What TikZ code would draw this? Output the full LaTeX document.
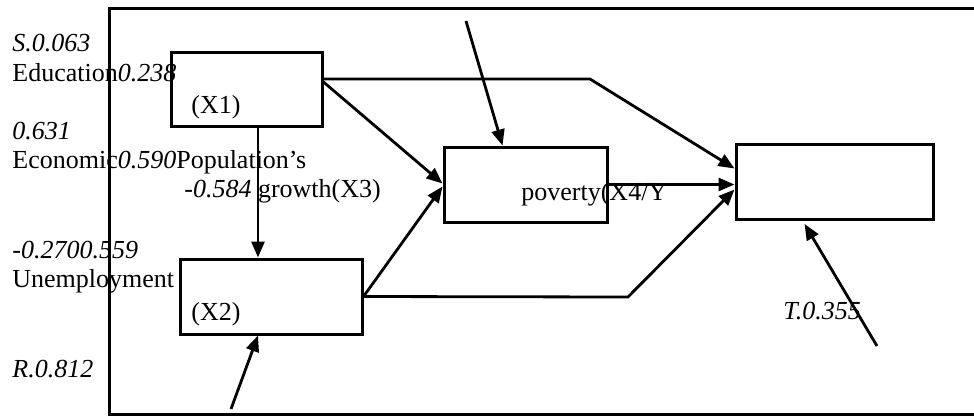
\documentclass[tikz,border=0pt]{standalone}
\usepackage{fontspec}
\setmainfont{Liberation Serif}
\usetikzlibrary{arrows.meta,calc}

\tikzset{
    varbox/.style={draw, line width=1.5pt, inner sep=0pt},
    path/.style={line width=1.4pt, -{Triangle[length=8pt,width=6.5pt]}},
    lbl/.style={anchor=base west, inner sep=0pt, font=\fontsize{13}{15}\selectfont}
}

\begin{document}
\begin{tikzpicture}[x=0.5pt,y=-0.5pt]

\useasboundingbox (0,0) rectangle (974,419);

% Cornice esterna
\draw[line width=1.5pt] (980,8) -- (109,8) -- (109,414) -- (980,414);

% Variabili
\node[varbox, minimum width=75.5pt, minimum height=37pt] (X1) at (246.5,89) {};
\node[varbox, minimum width=91pt, minimum height=37.5pt] (X2) at (271,296.5) {};
\node[varbox, minimum width=81.5pt, minimum height=37.5pt] (X4) at (525.5,184.5) {};
\node[varbox, minimum width=98.5pt, minimum height=37.5pt] (Y) at (834.5,181.5) {};

% Punti di piega e estremi liberi
\coordinate (bendA) at (590,79);
\coordinate (bendB) at (628,297);
\coordinate (vX) at (258,0);
\coordinate (eX4) at (466,21);
\coordinate (eX2) at (231,409);
\coordinate (eY) at (877,346);

% Frecce tra variabili
\draw[path] ($(X1.east)+(0,-10)$) -- (bendA) -- ($(Y.west)+(0,-13)$);
\draw[path] ($(X1.east)+(0,-7)$) -- ($(X4.west)+(0,-1)$);
\draw[path] (X1.south -| vX) -- (X2.north -| vX);
\draw[path] (X2.east) -- ($(X4.west)+(0,2)$);
\draw[path] (X2.east) -- (bendB) -- ($(Y.west)+(0,8)$);
\draw[path] (X4.east) -- (X4.east -| Y.west);

% Frecce dei residui
\draw[path] (eX4) -- ($(X4.north)+(-23,0)$);
\draw[path] (eX2) -- ($(X2.south)+(-13,0)$);
\draw[path, shorten >=2pt] (eY) -- ($(Y.south)+(-32,0)$);

% Etichette a sinistra
\node[lbl] (s) at (12,51) {\textit{S.0.063}};
\node[lbl] (edu) at (12,81) {Education\textit{0.238}};
\node[lbl] (x1) at (191,113) {(X1)};
\node[lbl] (c631) at (12,139) {\textit{0.631}};
\node[lbl] (eco) at (12,168) {Economic\textit{0.590}Population’s};
\node[lbl] (gro) at (184,197) {\textit{-0.584} growth(X3)};
\node[lbl] (c270) at (12,258) {\textit{-0.2700.559}};
\node[lbl] (une) at (12,287) {Unemployment};
\node[lbl] (x2) at (191,320) {(X2)};
\node[lbl] (r) at (12,377) {\textit{R.0.812}};

% Etichette a destra
\node[lbl] (pov) at (521,200) {poverty(X4/Y};
\node[lbl] (t) at (783,319) {\textit{T.0.355}};

\end{tikzpicture}
\end{document}
